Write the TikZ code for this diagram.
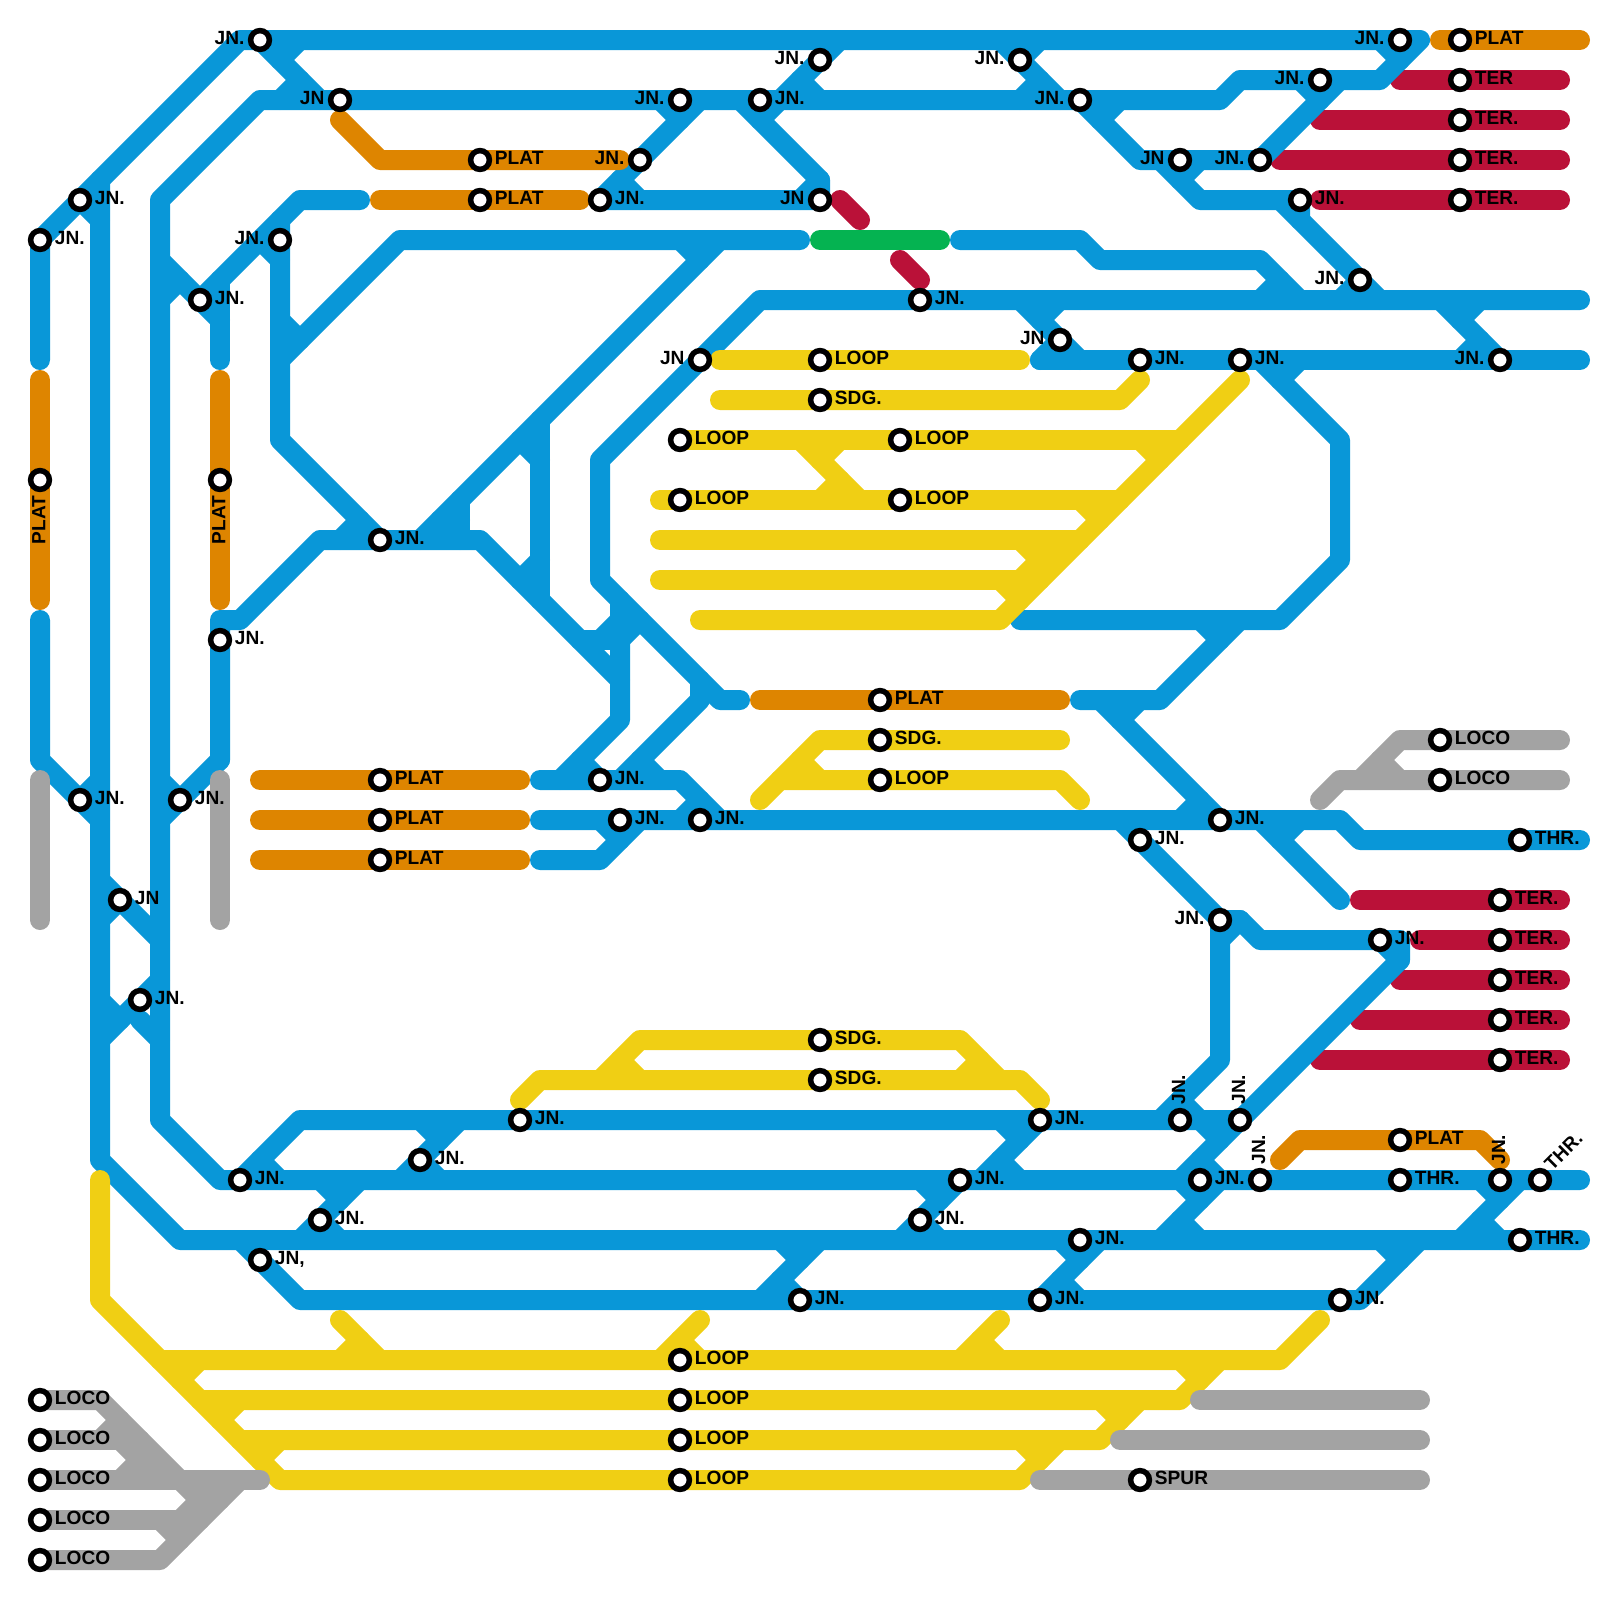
\documentclass[tikz,border=0pt]{standalone}
\usepackage{fontspec}
\setmainfont{Liberation Sans}
\definecolor{trkblue}{RGB}{9,151,216}
\definecolor{trkred}{RGB}{186,17,56}
\definecolor{trkorange}{RGB}{222,133,0}
\definecolor{trkyellow}{RGB}{240,207,20}
\definecolor{trkgrey}{RGB}{163,163,163}
\definecolor{trkgreen}{RGB}{5,179,81}
\tikzset{
    trk/.style={line width=0.25cm, line cap=round, line join=round},
    blu/.style={trk, draw=trkblue},
    rd/.style={trk, draw=trkred},
    org/.style={trk, draw=trkorange},
    yel/.style={trk, draw=trkyellow},
    gry/.style={trk, draw=trkgrey},
    grn/.style={trk, draw=trkgreen},
    stn/.style={circle, draw=black, fill=white, line width=0.069cm, minimum size=0.235cm, inner sep=0pt, outer sep=0pt},
    lbl/.style={inner sep=0pt, font=\bfseries\fontsize{6.8}{7}\selectfont, text=black},
}

\begin{document}
\begin{tikzpicture}[x=0.25cm, y=-0.25cm]
    \useasboundingbox (0,0) rectangle (80,80);
    %red
        \draw[rd] (70,4) -- (78,4);
        \draw[rd] (66,6) -- (78,6);
        \draw[rd] (64,8) -- (78,8);
        \draw[rd] (66,10) -- (78,10);
        \draw[rd] (68,45) -- (78,45);
        \draw[rd] (71,47) -- (78,47);
        \draw[rd] (70,49) -- (78,49);
        \draw[rd] (68,51) -- (78,51);
        \draw[rd] (66,53) -- (78,53);
        \draw[rd] (42,10) -- (43,11);
        \draw[rd] (45,13) -- (46,14);
    %blue, left side
        \draw[blu] (2,18) -- (2,12) -- (12,2) -- (71,2) -- (69,4) -- (62,4) -- (61,5) -- (13,5) -- (8,10) -- (8,56) -- (11,59) -- (79,59);
        \draw[blu] (5,9) -- (5,58) -- (9,62) -- (79,62);
        \draw[blu] (2,31) -- (2,38) -- (5,41);
        \draw[blu] (4,40) -- (5,39);
        \draw[blu] (4,10) -- (5,11);
        \draw[blu] (8,13) -- (10,15) -- (15,10) -- (18,10);
        \draw[blu] (8,15) -- (9,14);
        \draw[blu] (11,14) -- (11,18);
        \draw[blu] (10,15) -- (11,16);
        \draw[blu] (11,38) -- (11,31) -- (12,31) -- (16,27) -- (24,27) -- (31,34);
        \draw[blu] (11,38) -- (8,41);
        \draw[blu] (8,39) -- (9,40);
        \draw[blu] (5,44) -- (8,47);
        \draw[blu] (5,46) -- (6,45);
        \draw[blu] (5,52) -- (8,49);
        \draw[blu] (5,50) -- (6,51);
        \draw[blu] (7,51) -- (8,52);
        \draw[blu] (13,2) -- (16,5);
        \draw[blu] (14,3) -- (15,2);
        \draw[blu] (14,5) -- (15,4);
    %blue, middle
        \draw[blu] (14,11) -- (14,22) -- (19,27);
        \draw[blu] (13,12) -- (14,13);
        \draw[blu] (14,18) -- (20,12) -- (40,12);
        \draw[blu] (14,16) -- (15,17);
        \draw[blu] (17,27) -- (18,26);
        \draw[blu] (36,12) -- (21,27);
        \draw[blu] (34,12) -- (35,13);
        \draw[blu] (27,21) -- (27,30);
        \draw[blu] (26,22) -- (27,23);
        \draw[blu] (26,29) -- (27,28);
        \draw[blu] (23,25) -- (23,27);
        \draw[blu] (22,26) -- (23,26);
        \draw[blu] (31,30) -- (31,36) -- (28,39);
        \draw[blu] (29,32) -- (31,32);
        \draw[blu] (30,32) -- (31,31);
        \draw[blu] (31,32) -- (32,31);
        \draw[blu] (79,15) -- (38,15) -- (30,23) -- (30,29) -- (36,35) -- (37,35);
        \draw[blu] (35,34) -- (35,35) -- (31,39);
        \draw[blu] (27,39) -- (34,39) -- (36,41);
        \draw[blu] (29,38) -- (30,39);
        \draw[blu] (32,38) -- (33,39);
        \draw[blu] (27,41) -- (67,41) -- (68,42) -- (79,42);
        \draw[blu] (27,43) -- (30,43) -- (32,41);
        \draw[blu] (30,41) -- (31,42);
        \draw[blu] (34,41) -- (35,40);
        \draw[blu] (38,6) -- (42,2);
        \draw[blu] (40,4) -- (41,5);
        \draw[blu] (37,5) -- (41,9) -- (41,10) -- (30,10) -- (35,5);
        \draw[blu] (40,10) -- (41,9);
        \draw[blu] (31,9) -- (32,10);
        \draw[blu] (33,5) -- (34,6);
    %blue, top right
        \draw[blu] (50,2) -- (53,5);
        \draw[blu] (51,3) -- (52,2);
        \draw[blu] (51,5) -- (52,4);
        \draw[blu] (54,5) -- (57,8) -- (63,8) -- (67,4);
        \draw[blu] (55,6) -- (56,5);
        \draw[blu] (65,4) -- (66,5);
        \draw[blu] (69,2) -- (70,3);
        \draw[blu] (58,8) -- (60,10) -- (65,10) -- (65,11);
        \draw[blu] (64,10) -- (69,15);
        \draw[blu] (59,9) -- (60,8);
        \draw[blu] (67,15) -- (68,14);
        \draw[blu] (48,12) -- (54,12) -- (55,13) -- (63,13) -- (65,15);
        \draw[blu] (63,15) -- (64,14);
        \draw[blu] (51,15) -- (54,18);
        \draw[blu] (52,18) -- (53,17);
        \draw[blu] (52,16) -- (53,15);
        \draw[blu] (52,18) -- (79,18);
        \draw[blu] (72,15) -- (75,18);
        \draw[blu] (73,16) -- (74,15);
        \draw[blu] (73,18) -- (74,17);
        \draw[blu] (63,18) -- (67,22) -- (67,28) -- (64,31) -- (51,31);
        \draw[blu] (64,19) -- (65,18);
        \draw[blu] (60,31) -- (61,32);
        \draw[blu] (62,31) -- (58,35) -- (54,35);
        \draw[blu] (55,35) -- (61,41);
        \draw[blu] (56,36) -- (57,35);
        \draw[blu] (59,41) -- (60,40);
        \draw[blu] (63,41) -- (67,45);
        \draw[blu] (64,42) -- (65,41);
        \draw[blu] (56,41) -- (61,46) -- (62,46) -- (63,47) -- (70,47) -- (70,48) -- (62,56);
        \draw[blu] (61,47) -- (62,46);
        \draw[blu] (69,47) -- (70,48);
        \draw[blu] (61,46) -- (61,53) -- (58,56);
    %blue, bottom
        \draw[blu] (12,59) -- (15,56) -- (62,56);
        \draw[blu] (13,58) -- (14,59);
        \draw[blu] (15,62) -- (18,59);
        \draw[blu] (16,59) -- (17,60);
        \draw[blu] (16,61) -- (17,62);
        \draw[blu] (20,59) -- (23,56);
        \draw[blu] (21,56) -- (22,57);
        \draw[blu] (21,58) -- (22,59);
        \draw[blu] (12,62) -- (15,65) -- (68,65) -- (71,62);
        \draw[blu] (69,62) -- (70,63);
        \draw[blu] (38,65) -- (41,62);
        \draw[blu] (39,62) -- (40,63);
        \draw[blu] (39,64) -- (40,65);
        \draw[blu] (45,62) -- (48,59);
        \draw[blu] (46,59) -- (47,60);
        \draw[blu] (46,61) -- (47,62);
        \draw[blu] (49,59) -- (52,56);
        \draw[blu] (50,56) -- (51,57);
        \draw[blu] (50,58) -- (51,59);
        \draw[blu] (52,65) -- (55,62);
        \draw[blu] (53,62) -- (54,63);
        \draw[blu] (53,64) -- (54,65);
        \draw[blu] (59,55) -- (60,56);
        \draw[blu] (59,59) -- (62,56);
        \draw[blu] (60,56) -- (61,57);
        \draw[blu] (60,58) -- (61,59);
        \draw[blu] (58,62) -- (61,59);
        \draw[blu] (59,59) -- (60,60);
        \draw[blu] (59,61) -- (60,62);
        \draw[blu] (73,62) -- (76,59);
        \draw[blu] (74,59) -- (75,60);
        \draw[blu] (74,61) -- (75,62);
    %green
        \draw[grn] (41,12) -- (47,12);
    %orange
        \draw[org] (17,6) -- (19,8) -- (31,8);
        \draw[org] (19,10) -- (29,10);
        \draw[org] (2,19) -- (2,30);
        \draw[org] (11,19) -- (11,30);
        \draw[org] (72,2) -- (79,2);
        \draw[org] (38,35) -- (53,35);
        \draw[org] (13,39) -- (26,39);
        \draw[org] (13,41) -- (26,41);
        \draw[org] (13,43) -- (26,43);
        \draw[org] (64,58) -- (65,57) -- (74,57) -- (75,58);
    %yellow
        \draw[yel] (36,18) -- (51,18);
        \draw[yel] (36,20) -- (56,20) -- (57,19);
        \draw[yel] (34,22) -- (59,22);
        \draw[yel] (33,25) -- (56,25);
        \draw[yel] (33,27) -- (54,27);
        \draw[yel] (33,29) -- (52,29);
        \draw[yel] (35,31) -- (50,31) -- (62,19);
        \draw[yel] (57,22) -- (58,23);
        \draw[yel] (54,25) -- (55,26);
        \draw[yel] (51,27) -- (52,28);
        \draw[yel] (51,29) -- (53,27);
        \draw[yel] (50,29) -- (51,30);
        \draw[yel] (40,22) -- (43,25);
        \draw[yel] (41,23) -- (42,22);
        \draw[yel] (41,25) -- (42,24);
        \draw[yel] (38,40) -- (41,37) -- (53,37);
        \draw[yel] (39,39) -- (53,39) -- (54,40);
        \draw[yel] (40,38) -- (41,39);
        \draw[yel] (30,54) -- (32,52) -- (48,52) -- (50,54);
        \draw[yel] (31,53) -- (32,54);
        \draw[yel] (48,54) -- (49,53);
        \draw[yel] (26,55) -- (27,54) -- (51,54) -- (52,55);
        \draw[yel] (5,59) -- (5,65) -- (14,74) -- (51,74) -- (53,72);
        \draw[yel] (8,68) -- (64,68) -- (66,66);
        \draw[yel] (10,70) -- (59,70) -- (61,68);
        \draw[yel] (12,72) -- (55,72) -- (57,70);
        \draw[yel] (9,69) -- (10,68);
        \draw[yel] (11,71) -- (12,70);
        \draw[yel] (13,73) -- (14,72);
        \draw[yel] (59,68) -- (60,69);
        \draw[yel] (55,70) -- (56,71);
        \draw[yel] (51,72) -- (52,73);
        \draw[yel] (17,66) -- (19,68);
        \draw[yel] (17,68) -- (18,67);
        \draw[yel] (33,68) -- (35,66);
        \draw[yel] (34,67) -- (35,68);
        \draw[yel] (48,68) -- (50,66);
        \draw[yel] (49,67) -- (50,68);
    %grey
        \draw[gry] (2,39) -- (2,46);
        \draw[gry] (11,39) -- (11,46);
        \draw[gry] (2,70) -- (5,70) -- (9,74);
        \draw[gry] (2,72) -- (7,72);
        \draw[gry] (2,74) -- (13,74);
        \draw[gry] (2,76) -- (10,76);
        \draw[gry] (2,78) -- (8,78) -- (12,74);
        \draw[gry] (5,72) -- (6,71);
        \draw[gry] (6,72) -- (8,74);
        \draw[gry] (6,74) -- (7,73);
        \draw[gry] (9,74) -- (10,75) -- (11,75);
        \draw[gry] (9,76) -- (10,75);
        \draw[gry] (8,76) -- (9,77);
        \draw[gry] (60,70) -- (71,70);
        \draw[gry] (56,72) -- (71,72);
        \draw[gry] (52,74) -- (71,74);
        \draw[gry] (66,40) -- (67,39) -- (78,39);
        \draw[gry] (68,39) -- (70,37) -- (78,37);
        \draw[gry] (69,38) -- (70,39);
    %stations, label on the right
        \foreach \x/\y/\t in {2/12/JN., 4/10/JN., 10/15/JN., 11/32/JN., 4/40/JN., 9/40/JN., 6/45/JN, 7/50/JN.,
            19/27/JN., 24/8/PLAT, 24/10/PLAT, 30/10/JN., 38/5/JN., 46/15/JN., 41/18/LOOP, 41/20/SDG.,
            34/22/LOOP, 34/25/LOOP, 45/22/LOOP, 45/25/LOOP, 57/18/JN., 62/18/JN., 65/10/JN.,
            73/2/PLAT, 73/4/TER, 73/6/TER., 73/8/TER., 73/10/TER.,
            44/35/PLAT, 44/37/SDG., 44/39/LOOP, 19/39/PLAT, 19/41/PLAT, 19/43/PLAT,
            30/39/JN., 31/41/JN., 35/41/JN., 61/41/JN., 57/42/JN., 72/37/LOCO, 72/39/LOCO, 76/42/THR.,
            75/45/TER., 75/47/TER., 75/49/TER., 75/51/TER., 75/53/TER., 69/47/JN.,
            41/52/SDG., 41/54/SDG., 26/56/JN., 52/56/JN., 21/58/JN., 12/59/JN., 48/59/JN., 60/59/JN.,
            70/57/PLAT, 70/59/THR., 16/61/JN., 46/61/JN., 13/63/{JN,}, 54/62/JN., 76/62/THR.,
            40/65/JN., 52/65/JN., 67/65/JN., 34/68/LOOP, 34/70/LOOP, 34/72/LOOP, 34/74/LOOP,
            2/70/LOCO, 2/72/LOCO, 2/74/LOCO, 2/76/LOCO, 2/78/LOCO, 57/74/SPUR}
            {
            \node[stn] (s\x-\y) at (\x,\y) {};
            \node[lbl, anchor=base west] (t\x-\y) at (\x+0.72,\y+0.2) {\t};
            }
    %stations, label on the left
        \foreach \x/\y/\t in {13/2/JN., 17/5/JN, 14/12/JN., 34/5/JN., 32/8/JN., 41/10/JN, 41/3/JN., 51/3/JN.,
            54/5/JN., 35/18/JN, 53/17/JN, 70/2/JN., 66/4/JN., 59/8/JN, 63/8/JN., 68/14/JN., 75/18/JN., 61/46/JN.}
            {
            \node[stn] (s\x-\y) at (\x,\y) {};
            \node[lbl, anchor=base east] (t\x-\y) at (\x-0.75,\y+0.2) {\t};
            }
    %stations, label turned
        \foreach \x/\y in {59/56, 62/56, 63/59, 75/59}
            {
            \node[stn] (s\x-\y) at (\x,\y) {};
            \node[lbl, anchor=base west, rotate=90] (t\x-\y) at (\x+0.25,\y-0.75) {JN.};
            }
        \foreach \x/\y in {2/24, 11/24}
            {
            \node[stn] (s\x-\y) at (\x,\y) {};
            \node[lbl, anchor=base east, rotate=90] (t\x-\y) at (\x+0.27,\y+0.75) {PLAT};
            }
        \node[stn] (s77-59) at (77,59) {};
        \node[lbl, anchor=base west, rotate=45] (t77-59) at (77.6,58.6) {THR.};
\end{tikzpicture}
\end{document}
